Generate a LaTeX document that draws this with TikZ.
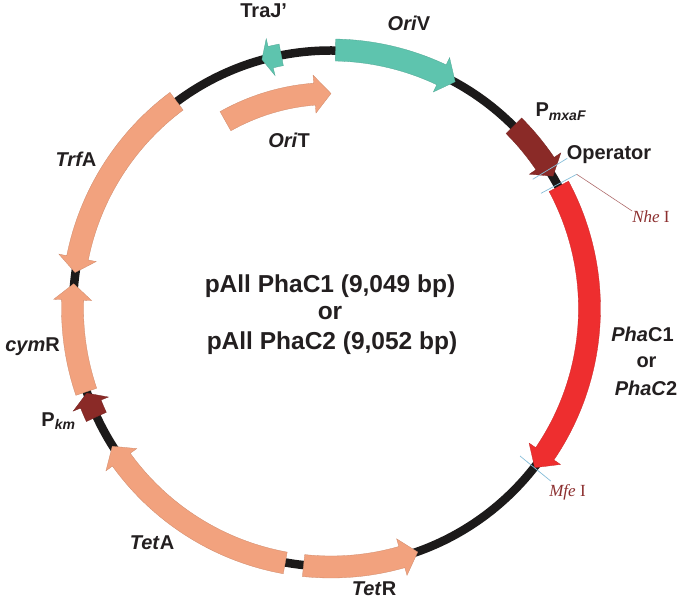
\documentclass[tikz,border=0pt]{standalone}
\usepackage{fontspec}
\setmainfont{Liberation Sans}
\newfontfamily\enzfont{Liberation Serif}
\definecolor{ringcol}{HTML}{1C1A1A}
\definecolor{salmon}{HTML}{F2A27E}
\definecolor{tealcol}{HTML}{5EC4AE}
\definecolor{promcol}{HTML}{8A2A27}
\definecolor{phacol}{HTML}{EE2E2F}
\definecolor{enzcol}{HTML}{8C2F2F}
\definecolor{tickcol}{HTML}{86BDD8}
\definecolor{txtcol}{HTML}{231F20}
\tikzset{
	genelabel/.style = {anchor = base, inner sep = 0pt, text = txtcol, font = \fontsize{20}{24}\selectfont\bfseries},
	titlelabel/.style = {genelabel, font = \fontsize{24.5}{28}\selectfont\bfseries},
	enzlabel/.style = {anchor = base, inner sep = 0pt, text = enzcol, font = \fontsize{17}{20}\selectfont\enzfont},
	cutline/.style = {draw = tickcol, line width = .7pt}
}
% colour, radius, tail angle, head base angle, tip angle
\newcommand{\genearc}[5]{
	\filldraw[fill = #1, draw = #1!85!black, line width = .3pt] (#3:#2+11) arc[start angle = #3, end angle = #4, radius = #2+11]
		-- (#4:#2+19) -- (#5:#2) -- (#4:#2-19) -- (#4:#2-11)
		arc[start angle = #4, end angle = #3, radius = #2-11] -- cycle;
}
\begin{document}
\begin{tikzpicture}[x = 1pt, y = 1pt]
	\useasboundingbox (0,0) rectangle (685,600);
	\begin{scope}[shift = {(331,291.5)}]
		\draw[ringcol, line width = 8.5pt] (0,0) circle (258);
		\genearc{tealcol}{258.5}{89}{64.7}{61.3}
		\genearc{tealcol}{258.5}{101.1}{103.5}{105.5}
		\genearc{salmon}{215}{119.4}{94.4}{90}
		\genearc{salmon}{258.5}{126.7}{168.7}{172}
		\genearc{salmon}{258.5}{198.8}{178.1}{174.5}
		\genearc{promcol}{258.5}{204.8}{201.7}{199.1}
		\genearc{salmon}{258.5}{259.8}{215.8}{212.2}
		\genearc{salmon}{258.5}{-96.1}{-74.1}{-70.4}
		\genearc{phacol}{258.5}{28.2}{-34.2}{-38}
		\genearc{promcol}{258.5}{45}{34.1}{30.8}
	\end{scope}

	\coordinate (opA) at (532.7,420.7);
	\coordinate (opB) at (567.3,441.7);
	\coordinate (nheA) at (541,406.7);
	\coordinate (nheB) at (576.7,425.7);
	\coordinate (mfeA) at (520,144);
	\coordinate (mfeB) at (550.7,119);
	\draw[cutline] (opA) -- (opB);
	\draw[cutline] (nheA) -- (nheB);
	\draw[cutline] (mfeA) -- (mfeB);

	\node[genelabel] (traj) at (263.7,582.7) {TraJ'};
	\node[genelabel] (oriv) at (409,569) {\textit{Ori}V};
	\node[genelabel] (orit) at (289,452) {\textit{Ori}T};
	\node[genelabel] (pmxaf) at (561,483) {P\textsubscript{\textit{mxaF}}};
	\node[genelabel] (operator) at (609,440) {Operator};
	\node[genelabel] (pha1) at (642.5,258) {\textit{Pha}C1};
	\node[genelabel] (phaor) at (646.5,232) {or};
	\node[genelabel] (pha2) at (646,204) {\textit{PhaC}2};
	\node[genelabel] (tetr) at (374,4.5) {\textit{Tet}R};
	\node[genelabel] (teta) at (152,51) {\textit{Tet}A};
	\node[genelabel] (pkm) at (58.5,174) {P\textsubscript{\textit{km}}};
	\node[genelabel] (cymr) at (32.5,248) {\textit{cym}R};
	\node[genelabel] (trfa) at (76,433) {{\itshape Trf}A};

	\node[titlelabel] (title1) at (330,307) {pAll PhaC1 (9,049 bp)};
	\node[titlelabel] (title2) at (330,280) {or};
	\node[titlelabel] (title3) at (332,250) {pAll PhaC2 (9,052 bp)};

	\node[enzlabel] (nhe) at (651,377) {\textit{Nhe} I};
	\node[enzlabel] (mfe) at (567.5,104) {\textit{Mfe} I};
	\draw[draw = enzcol!70, line width = .6pt] (nheB) -- (nhe.north west);
\end{tikzpicture}
\end{document}
